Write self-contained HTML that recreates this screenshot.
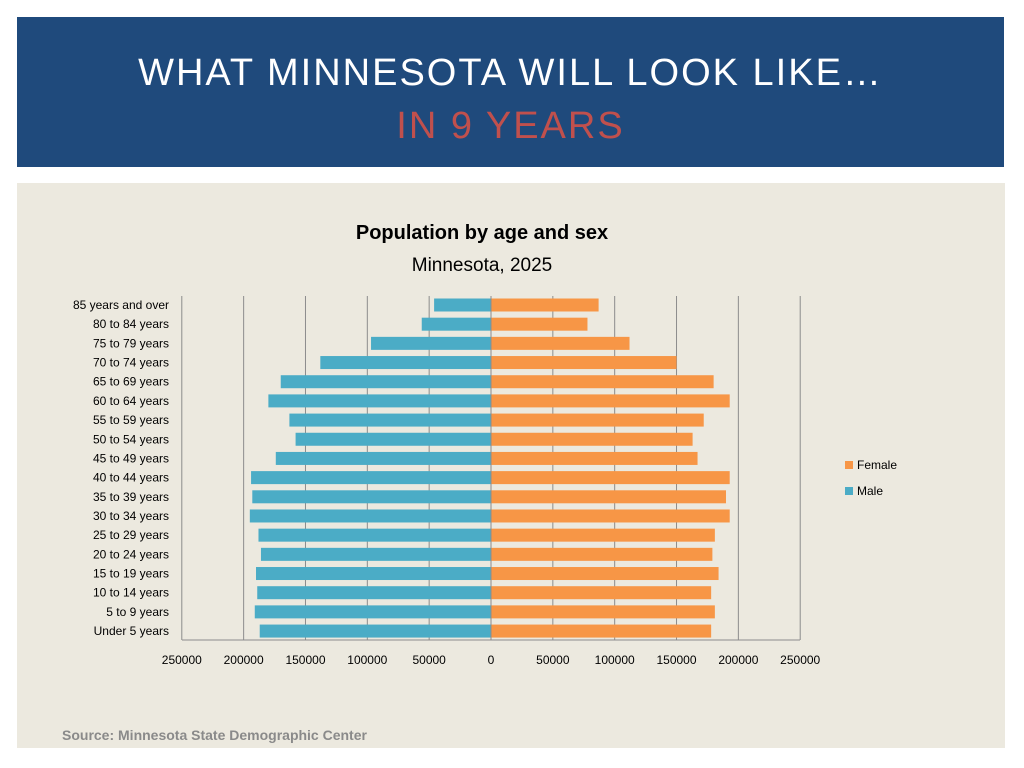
<!DOCTYPE html>
<html><head><meta charset="utf-8"><style>
body{margin:0;width:1024px;height:768px;background:#fff;position:relative;overflow:hidden;font-family:"Liberation Sans",sans-serif}
#hdr{position:absolute;left:17px;top:17px;width:987px;height:150px;background:#1f4a7c}
#t1{position:absolute;left:0;width:100%;top:35px;text-align:center;color:#fff;font-size:38px;letter-spacing:2px}
#t2{position:absolute;left:0;width:100%;top:88px;text-align:center;color:#c0504d;font-size:38px;letter-spacing:2px}
#panel{position:absolute;left:17px;top:183px;width:988px;height:565px;background:#ece9df}
</style></head><body>
<div id="hdr">
<div id="t1">WHAT MINNESOTA WILL LOOK LIKE…</div>
<div id="t2">IN 9 YEARS</div>
</div>
<div id="panel"></div>
<svg id="chart" width="1024" height="768" style="position:absolute;left:0;top:0">
<text x="482" y="239" text-anchor="middle" font-size="20" font-weight="bold" fill="#000">Population by age and sex</text>
<text x="482" y="271" text-anchor="middle" font-size="19" fill="#000">Minnesota, 2025</text>
<text x="62" y="740" font-size="14" fill="#8a8a8a" font-weight="bold">Source: Minnesota State Demographic Center</text>
<g id="g"></g>
</svg>
<script>
const categories=["85 years and over","80 to 84 years","75 to 79 years","70 to 74 years","65 to 69 years","60 to 64 years","55 to 59 years","50 to 54 years","45 to 49 years","40 to 44 years","35 to 39 years","30 to 34 years","25 to 29 years","20 to 24 years","15 to 19 years","10 to 14 years","5 to 9 years","Under 5 years"];
const male=[46000,56000,97000,138000,170000,180000,163000,158000,174000,194000,193000,195000,188000,186000,190000,189000,191000,187000];
const female=[87000,78000,112000,150000,180000,193000,172000,163000,167000,193000,190000,193000,181000,179000,184000,178000,181000,178000];
const ticks=[-250000,-200000,-150000,-100000,-50000,0,50000,100000,150000,200000,250000];
const tickLabels=["250000","200000","150000","100000","50000","0","50000","100000","150000","200000","250000"];
const NS="http://www.w3.org/2000/svg",g=document.getElementById('g');
const x=v=>491+v*0.0012368;
const y=i=>305+i*19.18;
function mk(t,a){const e=document.createElementNS(NS,t);for(const k in a)e.setAttribute(k,a[k]);g.appendChild(e);return e;}
ticks.forEach((t,i)=>{
 if(t!==0){const l=mk('line',{x1:x(t),x2:x(t),y1:296,y2:640,stroke:'#8c8c8c','stroke-width':1});
 
 }
 const tx=mk('text',{x:x(t),y:664,'text-anchor':'middle','font-size':12,fill:'#000'});tx.textContent=tickLabels[i];
 
 
});
categories.forEach((c,i)=>{
 const lb=mk('text',{x:169,y:y(i)+4,'text-anchor':'end','font-size':12,fill:'#000'});lb.textContent=c;
 
 
 const m=mk('rect',{x:x(-male[i]),y:y(i)-6.5,width:x(0)-x(-male[i]),height:13,fill:'#4bacc6'});
 
 
 const f=mk('rect',{x:x(0),y:y(i)-6.5,width:x(female[i])-x(0),height:13,fill:'#f79646'});
 
 
});
const ax=mk('line',{x1:491,x2:491,y1:296,y2:640,stroke:'#8c8c8c'});


const bx=mk('line',{x1:182,x2:800,y1:640,y2:640,stroke:'#8c8c8c'});


[["Female","#f79646",465],["Male","#4bacc6",491]].forEach(([n,c,yy])=>{
 const r=mk('rect',{x:845,y:yy-4,width:8,height:8,fill:c});
 
 
 const t=mk('text',{x:857,y:yy+4,'font-size':12,fill:'#000'});t.textContent=n;
 
 
});
</script>
</body></html>
